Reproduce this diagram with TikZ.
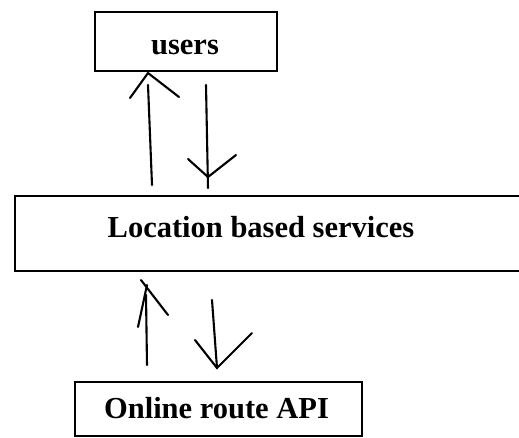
\documentclass[tikz,border=0pt]{standalone}
\usepackage{fontspec}
\setmainfont{Liberation Serif}
\begin{document}
\begin{tikzpicture}[x=1pt,y=-1pt,
  box/.style={draw,line width=2.6pt,inner sep=0pt},
  lbl/.style={font=\fontsize{30.5}{36}\selectfont\bfseries,inner sep=0pt,anchor=base},
  stroke/.style={line width=2.1pt,line cap=round}]
\clip (0,0) rectangle (519,437);
% boxes
\node[box,minimum width=182pt,minimum height=59pt] (usersbox) at (186,41.5) {};
\node[box,minimum width=525pt,minimum height=75pt] (lbsbox) at (277.5,233.5) {};
\node[box,minimum width=287pt,minimum height=54pt] (apibox) at (218.5,409) {};
% labels
\node[lbl] (userstxt) at (185,54) {users};
\node[lbl] (lbstxt) at (261,237) {Location based services};
\node[lbl] (apitxt) at (216.5,418) {Online route API};
% hand-drawn connectors: users <-> LBS
\coordinate (u1s) at (152,185);
\coordinate (u1e) at (148,85);
\coordinate (u1h) at (148,73);
\coordinate (u1l) at (130,98);
\coordinate (u1r) at (179,97);
\draw[stroke] (u1s) -- (u1e);
\draw[stroke] (u1l) -- (u1h) -- (u1r);
\coordinate (d1s) at (206,85);
\coordinate (d1e) at (208,188);
\coordinate (d1h) at (208,177);
\coordinate (d1l) at (188,159);
\coordinate (d1r) at (236,155);
\draw[stroke] (d1s) -- (d1e);
\draw[stroke] (d1l) -- (d1h) -- (d1r);
% hand-drawn connectors: LBS <-> API
\coordinate (u2s) at (147,365);
\coordinate (u2e) at (146,295);
\coordinate (u2a) at (141,280);
\coordinate (u2b) at (168,315);
\coordinate (u2c) at (147,285);
\coordinate (u2d) at (138,327);
\draw[stroke] (u2s) -- (u2e);
\draw[stroke] (u2a) -- (u2b);
\draw[stroke] (u2c) -- (u2d);
\coordinate (d2s) at (212,300);
\coordinate (d2h) at (217,368);
\coordinate (d2l) at (195,340);
\coordinate (d2r) at (252,333);
\draw[stroke] (d2s) -- (d2h);
\draw[stroke] (d2l) -- (d2h) -- (d2r);
\end{tikzpicture}
\end{document}
